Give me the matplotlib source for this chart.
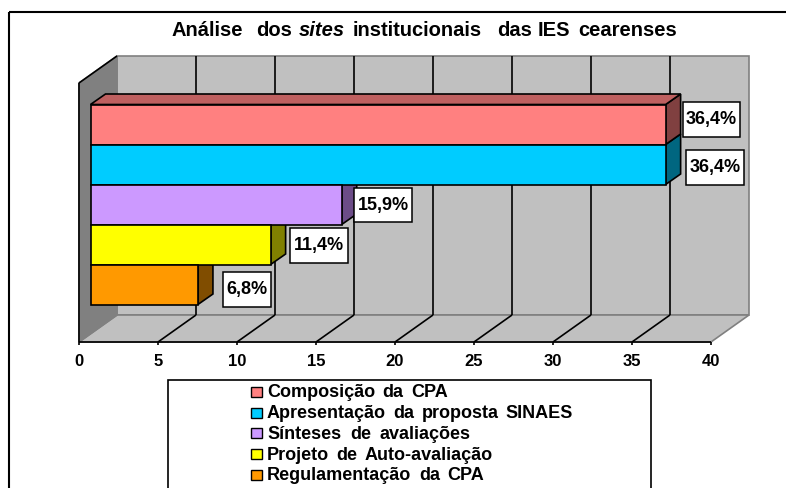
import matplotlib
matplotlib.use("Agg")
import matplotlib.pyplot as plt
from matplotlib.patches import Polygon, Rectangle
from matplotlib.transforms import Affine2D

plt.rcParams["font.family"] = ["Liberation Sans", "DejaVu Sans"]

# chart data, top bar first
categories = ["Composição da CPA", "Apresentação da proposta SINAES", "Sínteses de avaliações",
              "Projeto de Auto-avaliação", "Regulamentação da CPA"]
values = [36.4, 36.4, 15.9, 11.4, 6.8]
labels = ["36,4%", "36,4%", "15,9%", "11,4%", "6,8%"]
ticks = [0, 5, 10, 15, 20, 25, 30, 35, 40]
title_words = ["Análise", "dos", "sites", "institucionais", "das", "IES", "cearenses"]

colors_front = ["#FF8080", "#00CCFF", "#CC99FF", "#FFFF00", "#FF9900"]
colors_side = ["#804040", "#006680", "#6C4C88", "#808000", "#804D00"]
color_top = "#BF6060"

W, H = 786, 489
X0, PER_UNIT = 79, 15.8        # px of value 0 on the front edge, px per unit
FRONT_Y, BACK_DX, BACK_DY = 343, 38, -27
WALL_TOP = 57
BAR_DX, BAR_DY = 15, -10.5     # depth of the bars
BAR_OFF = 11.5                 # bars sit a bit behind the front edge
BAR_TOP, BAR_H = 105.5, 40
# label boxes: left, top, right, bottom
LABEL_BOX = [(683, 103, 740, 138), (686, 151, 744, 186), (354, 189, 412, 223),
             (290, 229, 347.5, 264), (223, 273, 270.5, 307.5)]
LEGEND_END = [448, 573, 471, 493, 484]   # right end of each legend line
TITLE_X = [172, 256, 299, 353, 497, 538, 578]   # where each title word starts

fig = plt.figure(figsize=(W/100, H/100), dpi=100)
ax = fig.add_axes([0, 0, 1, 1])
ax.set_xlim(-X0/PER_UNIT, (W-X0)/PER_UNIT)
ax.set_ylim((H-BAR_TOP)/BAR_H - 0.5, -BAR_TOP/BAR_H - 0.5)
ax.axis("off")
pix = Affine2D().scale(1, -1).translate(0, H)
fig.canvas.draw()
rend = fig.canvas.get_renderer()

def px(v):
    return X0 + v*PER_UNIT

def poly(pts, fc, ec="black", lw=1.2, z=2):
    ax.add_patch(Polygon(pts, closed=True, fc=fc, ec=ec, lw=lw, transform=pix, zorder=z, joinstyle="miter"))

def seg(x1, y1, x2, y2, color="black", lw=1.2, z=3):
    ax.plot([x1, x2], [y1, y2], color=color, lw=lw, transform=pix, zorder=z, solid_capstyle="butt")

def spaced(words, x0, x1, y, size):
    # the original text is stretched, so spread the words over its measured width
    items = [ax.text(x0, y, w, transform=pix, ha="left", va="center", fontsize=size,
                     fontweight="bold", zorder=8) for w in words]
    widths = [t.get_window_extent(rend).width for t in items]
    gap = (x1 - x0 - sum(widths)) / max(len(words)-1, 1)
    x = x0
    for t, wd in zip(items, widths):
        t.set_x(x)
        x += wd + gap

# outer frame, open at right and bottom
seg(9, 13, W, 13, lw=1.5, z=1)
seg(9, 13, 9, H, lw=1.5, z=1)

# walls
xl, xr = px(ticks[0]), px(ticks[-1])
back_y = FRONT_Y + BACK_DY
poly([(xl+BACK_DX, WALL_TOP), (xr+BACK_DX, WALL_TOP), (xr+BACK_DX, back_y), (xl+BACK_DX, back_y)], "#C0C0C0", ec="#808080")
poly([(xl, FRONT_Y), (xr, FRONT_Y), (xr+BACK_DX, back_y), (xl+BACK_DX, back_y)], "#C0C0C0", ec="#808080")
poly([(xl, WALL_TOP-BACK_DY), (xl+BACK_DX, WALL_TOP), (xl+BACK_DX, back_y), (xl, FRONT_Y)], "#808080", ec="#808080")
seg(xl, WALL_TOP-BACK_DY, xl+BACK_DX, WALL_TOP)
seg(xl, WALL_TOP-BACK_DY, xl, FRONT_Y)

# grid lines and axis
for t in ticks[1:-1]:
    seg(px(t), FRONT_Y, px(t)+BACK_DX, back_y)
    seg(px(t)+BACK_DX, back_y, px(t)+BACK_DX, WALL_TOP)
seg(xl, FRONT_Y, xr, FRONT_Y)
for t in ticks:
    seg(px(t), FRONT_Y, px(t), FRONT_Y+3)
    ax.text(px(t), 362, str(t), transform=pix, ha="center", va="center", fontsize=12, fontweight="bold")

# bars, bottom one first so the depth faces stack right
ys = list(range(len(values)))
for i in reversed(ys):
    y0 = BAR_TOP + i*BAR_H
    x_end = X0 + BAR_OFF + values[i]*PER_UNIT
    poly([(x_end, y0), (x_end+BAR_DX, y0+BAR_DY), (x_end+BAR_DX, y0+BAR_H+BAR_DY), (x_end, y0+BAR_H)], colors_side[i], z=4)
    if i == 0:
        poly([(X0+BAR_OFF, y0), (X0+BAR_OFF+BAR_DX, y0+BAR_DY), (x_end+BAR_DX, y0+BAR_DY), (x_end, y0)], color_top, z=4)
ax.barh(ys, values, height=1, left=BAR_OFF/PER_UNIT, color=colors_front, edgecolor="black", linewidth=1.2, zorder=5)

# value labels
for lab, (x1, y1, x2, y2) in zip(labels, LABEL_BOX):
    ax.add_patch(Rectangle((x1, y1), x2-x1, y2-y1, fc="white", ec="black", lw=1.1, transform=pix, zorder=6))
    ax.text((x1+x2)/2, (y1+y2)/2 - 0.5, lab, transform=pix, ha="center", va="center", fontsize=13, fontweight="bold", zorder=7)

# legend box
ax.add_patch(Rectangle((168, 381), 483, 120, fc="white", ec="black", lw=1.2, transform=pix, zorder=6))
for i, cat in enumerate(categories):
    y = 393 + i*20.7
    ax.add_patch(Rectangle((250.5, y-5), 11, 10, fc=colors_front[i], ec="black", lw=1, transform=pix, zorder=7))
    spaced(cat.split(" "), 267, LEGEND_END[i], y, 13)

# title, word by word since the italic one needs its own run
for w, x in zip(title_words, TITLE_X):
    ax.text(x, 31, w, transform=pix, ha="left", va="center", fontsize=14.5, fontweight="bold",
            style="italic" if w == "sites" else "normal")

fig.savefig("out.png", dpi=100)
